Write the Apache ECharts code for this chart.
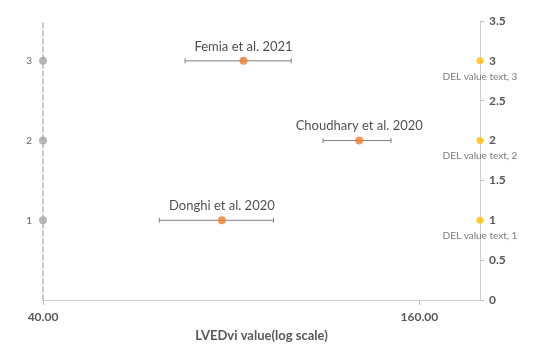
<!DOCTYPE html>
<html>
<head>
<meta charset="utf-8">
<script src="https://cdn.jsdelivr.net/npm/echarts@6/dist/echarts.min.js"></script>
<style>
html, body { margin: 0; padding: 0; background: #fff; }
#chart { width: 536px; height: 353px; }
</style>
</head>
<body>
<div id="chart"></div>
<script>
// study rows (y position) and LVEDvi estimates with their intervals
const studies = ['Donghi et al. 2020', 'Choudhary et al. 2020', 'Femia et al. 2021']
const rows = [1, 2, 3]
const lvedvi = [77.3, 128.2, 83.7]
const ciLow = [61.4, 112.2, 67.5]
const ciHigh = [93.5, 144.1, 99.8]
// helper series pinned to the axis ends
const leftX = 40
const rightX = 200
const delText = ['DEL value text, 1', 'DEL value text, 2', 'DEL value text, 3']
const xTickValues = [40, 160]
const yMin = 0
const yMax = 3.5
const yStep = 0.5

const font = 'Lato, "Open Sans", sans-serif'
const chart = echarts.init(document.getElementById('chart'))

const pointData = rows.map((r, i) => [lvedvi[i], r, studies[i]])
const barData = rows.map((r, i) => [ciLow[i], ciHigh[i], r])
const leftData = rows.map(r => [leftX, r])
const rightData = rows.map((r, i) => [rightX, r, delText[i]])

const option = {
  animation: false,
  grid: { left: 43, right: 56, top: 21, bottom: 53 },
  xAxis: {
    type: 'log',
    logBase: 2,
    min: leftX,
    max: rightX,
    name: 'LVEDvi value(log scale)',
    nameLocation: 'middle',
    nameGap: 29,
    nameTextStyle: { color: '#595959', fontWeight: 'bold', fontSize: 13, fontFamily: font },
    axisLine: { lineStyle: { color: '#d0d0d0', width: 1 } },
    axisTick: { length: 5, lineStyle: { color: '#bfbfbf' }, customValues: xTickValues },
    axisLabel: {
      customValues: xTickValues,
      formatter: v => Number(v).toFixed(2),
      color: '#595959',
      fontWeight: 'bold',
      fontSize: 12,
      fontFamily: font,
      margin: 11
    },
    splitLine: { show: false }
  },
  yAxis: [
    {
      type: 'value',
      position: 'left',
      min: yMin,
      max: yMax,
      interval: yStep,
      axisLine: { show: true, lineStyle: { color: '#b8b8b8', width: 1.5, type: [5, 3] } },
      axisTick: { show: false },
      axisLabel: { show: false },
      splitLine: { show: false }
    },
    {
      type: 'value',
      position: 'right',
      min: yMin,
      max: yMax,
      interval: yStep,
      axisLine: { show: true, lineStyle: { color: '#d0d0d0', width: 1 } },
      axisTick: { show: true, length: 4, lineStyle: { color: '#bfbfbf' } },
      axisLabel: { color: '#595959', fontWeight: 'bold', fontSize: 12, fontFamily: font, margin: 9 },
      splitLine: { show: false }
    }
  ],
  series: [
    {
      type: 'custom',
      yAxisIndex: 1,
      data: barData,
      encode: { x: [0, 1], y: 2 },
      renderItem: (params, api) => {
        const y = api.value(2)
        const p0 = api.coord([api.value(0), y])
        const p1 = api.coord([api.value(1), y])
        const cap = 2.5
        const style = { stroke: '#808080', lineWidth: 1 }
        return {
          type: 'group',
          children: [
            { type: 'line', shape: { x1: p0[0], y1: p0[1], x2: p1[0], y2: p1[1] }, style },
            { type: 'line', shape: { x1: p0[0], y1: p0[1] - cap, x2: p0[0], y2: p0[1] + cap }, style },
            { type: 'line', shape: { x1: p1[0], y1: p1[1] - cap, x2: p1[0], y2: p1[1] + cap }, style }
          ]
        }
      }
    },
    {
      type: 'scatter',
      yAxisIndex: 1,
      data: pointData,
      symbolSize: 8,
      itemStyle: { color: '#ed7d31' },
      label: {
        show: true,
        position: 'top',
        distance: 4,
        formatter: p => p.value[2],
        color: '#1f1f1f',
        fontSize: 13,
        fontFamily: font
      },
      z: 5
    },
    {
      type: 'scatter',
      yAxisIndex: 1,
      data: leftData,
      symbolSize: 8,
      itemStyle: { color: '#a5a5a5' },
      label: {
        show: true,
        position: 'left',
        distance: 7,
        formatter: p => p.value[1],
        color: '#404040',
        fontSize: 10,
        fontFamily: font
      }
    },
    {
      type: 'scatter',
      yAxisIndex: 1,
      data: rightData,
      symbolSize: 7,
      itemStyle: { color: '#ffc000' },
      label: {
        show: true,
        position: 'bottom',
        distance: 7,
        formatter: p => p.value[2],
        color: '#595959',
        fontSize: 10,
        fontFamily: font
      },
      z: 5
    }
  ]
}

chart.setOption(option)
</script>
</body>
</html>
